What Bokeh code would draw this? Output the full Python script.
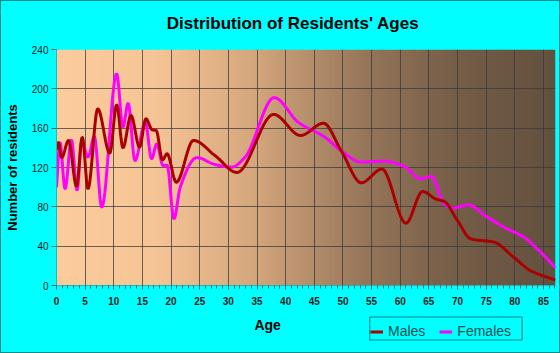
import numpy as np
from bokeh.plotting import figure
from bokeh.layouts import column
from bokeh.models import Range1d, SingleIntervalTicker, FixedTicker, Label, Legend, LegendItem
from bokeh.embed import file_html
from bokeh.resources import INLINE

title_text = "Distribution of Residents' Ages"
x_label = "Age"
y_label = "Number of residents"
series_names = ["Males", "Females"]

male_age = [0, 0.3, 0.9, 2.1, 3.5, 4.5, 5.5, 7.2, 9.3, 10.5, 11.6, 13.0, 14.5, 15.6, 16.7, 17.4,
            18.5, 19.3, 20.9, 23.9, 27.7, 31.5, 37.9, 42.6, 46.6, 49.7, 53.2, 56.8, 61.0, 63.9,
            66.2, 67.7, 70.0, 72.3, 76.4, 79.8, 82.7, 87.1]
male_val = [138, 146, 130, 147.5, 100.7, 150.9, 98.3, 179.7, 134.6, 183.8, 140, 173, 140.7, 169.6,
            158.3, 157.7, 127.8, 134, 105, 147.5, 132, 115, 174, 152.6, 165, 137, 104.5, 118.4,
            63.4, 95.6, 88, 85.4, 66, 47.5, 44, 28.8, 15.3, 5.5]

fem_age = [0, 0.6, 1.5, 2.6, 3.6, 4.4, 5.5, 6.6, 7.9, 10.5, 11.6, 12.5, 13.7, 15.5, 16.6, 17.5,
           18.6, 19.3, 20.5, 21.6, 24.5, 27.7, 30.6, 32.9, 38.0, 42.2, 46.8, 49.7, 53.2, 57.2,
           60.7, 63.6, 65.4, 67.7, 69.1, 71.8, 75.2, 78.1, 81.6, 84.5, 87.1]
fem_val = [100, 145.8, 98.3, 148.2, 96.6, 147.5, 130.5, 151.6, 79.6, 215.3, 161, 185.5, 127, 166,
           128.8, 144, 122, 122.4, 67.8, 100, 130, 123, 120.4, 130.5, 191, 166, 151, 137, 125.5,
           126.5, 121, 108.5, 111, 83, 78.7, 82, 69.5, 59.3, 49, 34, 18]

x_ticks = list(range(0, 90, 5))
y_ticks = [0, 40, 80, 120, 160, 200, 240]

X_MAX = 87.1
Y_MAX = 240
W = 558
FRAME_L, FRAME_R = 54, 555   # page pixels of the plot frame (strips share it)
LEG_L, LEG_R, LEG_T, LEG_B = 368, 521, 316, 339   # legend box, page pixels
FONT = "Liberation Sans"
BG = "#00ffff"
MALE_C = "#aa0000"
FEM_C = "#ff00ff"
FRAME_LINE = "#0a8a8a"


def pchip(x, y, xs):
    x = np.asarray(x, float)
    y = np.asarray(y, float)
    h = np.diff(x)
    d = np.diff(y) / h
    n = len(x)
    m = np.zeros(n)
    for k in range(1, n - 1):
        if d[k - 1] * d[k] > 0:
            w1 = 2 * h[k] + h[k - 1]
            w2 = h[k] + 2 * h[k - 1]
            m[k] = (w1 + w2) / (w1 / d[k - 1] + w2 / d[k])
    m[0] = d[0]
    m[-1] = d[-1]
    idx = np.clip(np.searchsorted(x, xs) - 1, 0, n - 2)
    t = (xs - x[idx]) / h[idx]
    h00 = 2 * t**3 - 3 * t**2 + 1
    h10 = t**3 - 2 * t**2 + t
    h01 = -2 * t**3 + 3 * t**2
    h11 = t**3 - t**2
    return h00 * y[idx] + h10 * h[idx] * m[idx] + h01 * y[idx + 1] + h11 * h[idx] * m[idx + 1]


def strip(top, h):
    # a plain cyan strip; frame aligned with the main frame; data x = page x, data y = -page y
    f = figure(width=W, height=h, output_backend="svg", toolbar_location=None,
               x_range=Range1d(FRAME_L, FRAME_R), y_range=Range1d(-(top + h), -top),
               x_axis_type=None, y_axis_type=None, min_border=0)
    f.grid.visible = False
    f.outline_line_color = None
    f.background_fill_color = BG
    f.border_fill_color = BG
    return f


# ---- title strip ----
pt = strip(1, 40)
pt.add_layout(Label(x=291.5, y=-23, text=title_text, text_font=FONT, text_font_size="17px",
                    text_font_style="bold", text_align="center", text_baseline="middle",
                    text_color="#000000"))

# ---- main chart ----
p = figure(width=W, height=270, output_backend="svg", toolbar_location=None,
           x_range=Range1d(0, X_MAX), y_range=Range1d(0, Y_MAX),
           min_border_left=53, min_border_right=4, min_border_top=8, min_border_bottom=26)
p.border_fill_color = BG
p.background_fill_color = None
p.outline_line_color = None

N = 300
gx = np.linspace(0, 1, N)
stops = [0.0, 0.2, 0.4, 0.62, 0.8, 1.0]
rs = [252, 246, 212, 150, 118, 98]
gs = [204, 197, 166, 118, 94, 80]
bs = [156, 150, 124, 90, 72, 62]
img = np.empty((1, N), dtype=np.uint32)
view = img.view(dtype=np.uint8).reshape((1, N, 4))
view[0, :, 0] = np.interp(gx, stops, rs).astype(np.uint8)
view[0, :, 1] = np.interp(gx, stops, gs).astype(np.uint8)
view[0, :, 2] = np.interp(gx, stops, bs).astype(np.uint8)
view[0, :, 3] = 255
bg = p.image_rgba(image=[img], x=0, y=0, dw=X_MAX, dh=Y_MAX)
bg.level = "image"

xs_m = np.linspace(male_age[0], male_age[-1], 900)
xs_f = np.linspace(fem_age[0], fem_age[-1], 900)
p.line(xs_f, pchip(fem_age, fem_val, xs_f), line_color=FEM_C, line_width=3)
p.line(xs_m, pchip(male_age, male_val, xs_m), line_color=MALE_C, line_width=3)

p.xaxis.ticker = SingleIntervalTicker(interval=5, num_minor_ticks=5)
p.yaxis.ticker = FixedTicker(ticks=y_ticks)
p.xgrid.ticker = FixedTicker(ticks=x_ticks)
for g in (p.xgrid, p.ygrid):
    g.grid_line_color = "#3a3a3a"
    g.grid_line_alpha = 0.75
    g.grid_line_width = 1
    g.level = "underlay"

for ax in (p.xaxis, p.yaxis):
    ax.axis_line_color = "#20b8b8"
    ax.major_tick_line_color = "#2a6a6a"
    ax.minor_tick_line_color = "#2a6a6a"
    ax.major_tick_in = 0
    ax.minor_tick_in = 0
    ax.major_label_text_font = FONT
    ax.major_label_text_font_size = "10px"
    ax.major_label_text_color = "#1a1a1a"

p.xaxis.major_tick_out = 4
p.xaxis.minor_tick_out = 3
p.xaxis.major_label_standoff = 7
p.xaxis.major_label_text_font_style = "bold"
p.yaxis.major_tick_out = 5
p.yaxis.minor_tick_line_color = None
p.yaxis.major_label_standoff = 3

p.yaxis.axis_label = y_label
p.yaxis.axis_label_text_font = FONT
p.yaxis.axis_label_text_font_size = "13px"
p.yaxis.axis_label_text_font_style = "bold"
p.yaxis.axis_label_text_color = "#000000"
p.yaxis.axis_label_standoff = 9

# ---- bottom strip: axis title and legend ----
pb = strip(311, 41)
pb.add_layout(Label(x=266, y=-324, text=x_label, text_font=FONT, text_font_size="14px",
                    text_font_style="bold", text_align="center", text_baseline="middle",
                    text_color="#000000"))
# legend frame drawn as a closed polyline (page-pixel coordinates of the strip)
box_x = [LEG_L + 0.5, LEG_R + 0.5, LEG_R + 0.5, LEG_L + 0.5, LEG_L + 0.5]
box_y = [-LEG_T - 0.5, -LEG_T - 0.5, -LEG_B - 0.5, -LEG_B - 0.5, -LEG_T - 0.5]
pb.line(x=box_x, y=box_y, line_color=FRAME_LINE, line_width=1.2)
# legend keys only (one off-range point, nothing visible in this strip)
lm = pb.line(x=[0], y=[0], line_color=MALE_C, line_width=3)
lf = pb.line(x=[0], y=[0], line_color=FEM_C, line_width=3)
legend = Legend(items=[LegendItem(label=series_names[0], renderers=[lm]),
                       LegendItem(label=series_names[1], renderers=[lf])],
                orientation="horizontal", location=(LEG_L - FRAME_L, 352 - LEG_B))
legend.border_line_color = None
legend.background_fill_alpha = 0
legend.label_text_font = FONT
legend.label_text_font_size = "14px"
legend.label_text_color = "#0b4f4f"
legend.glyph_width = 13
legend.glyph_height = 13
legend.label_standoff = 5
legend.spacing = 14
legend.padding = 4
legend.margin = 0
pb.add_layout(legend)

layout = column(pt, p, pb, spacing=0)
layout.styles = {"border": "1px solid " + FRAME_LINE, "background-color": BG}

open("out.html", "w").write(file_html(layout, INLINE))
